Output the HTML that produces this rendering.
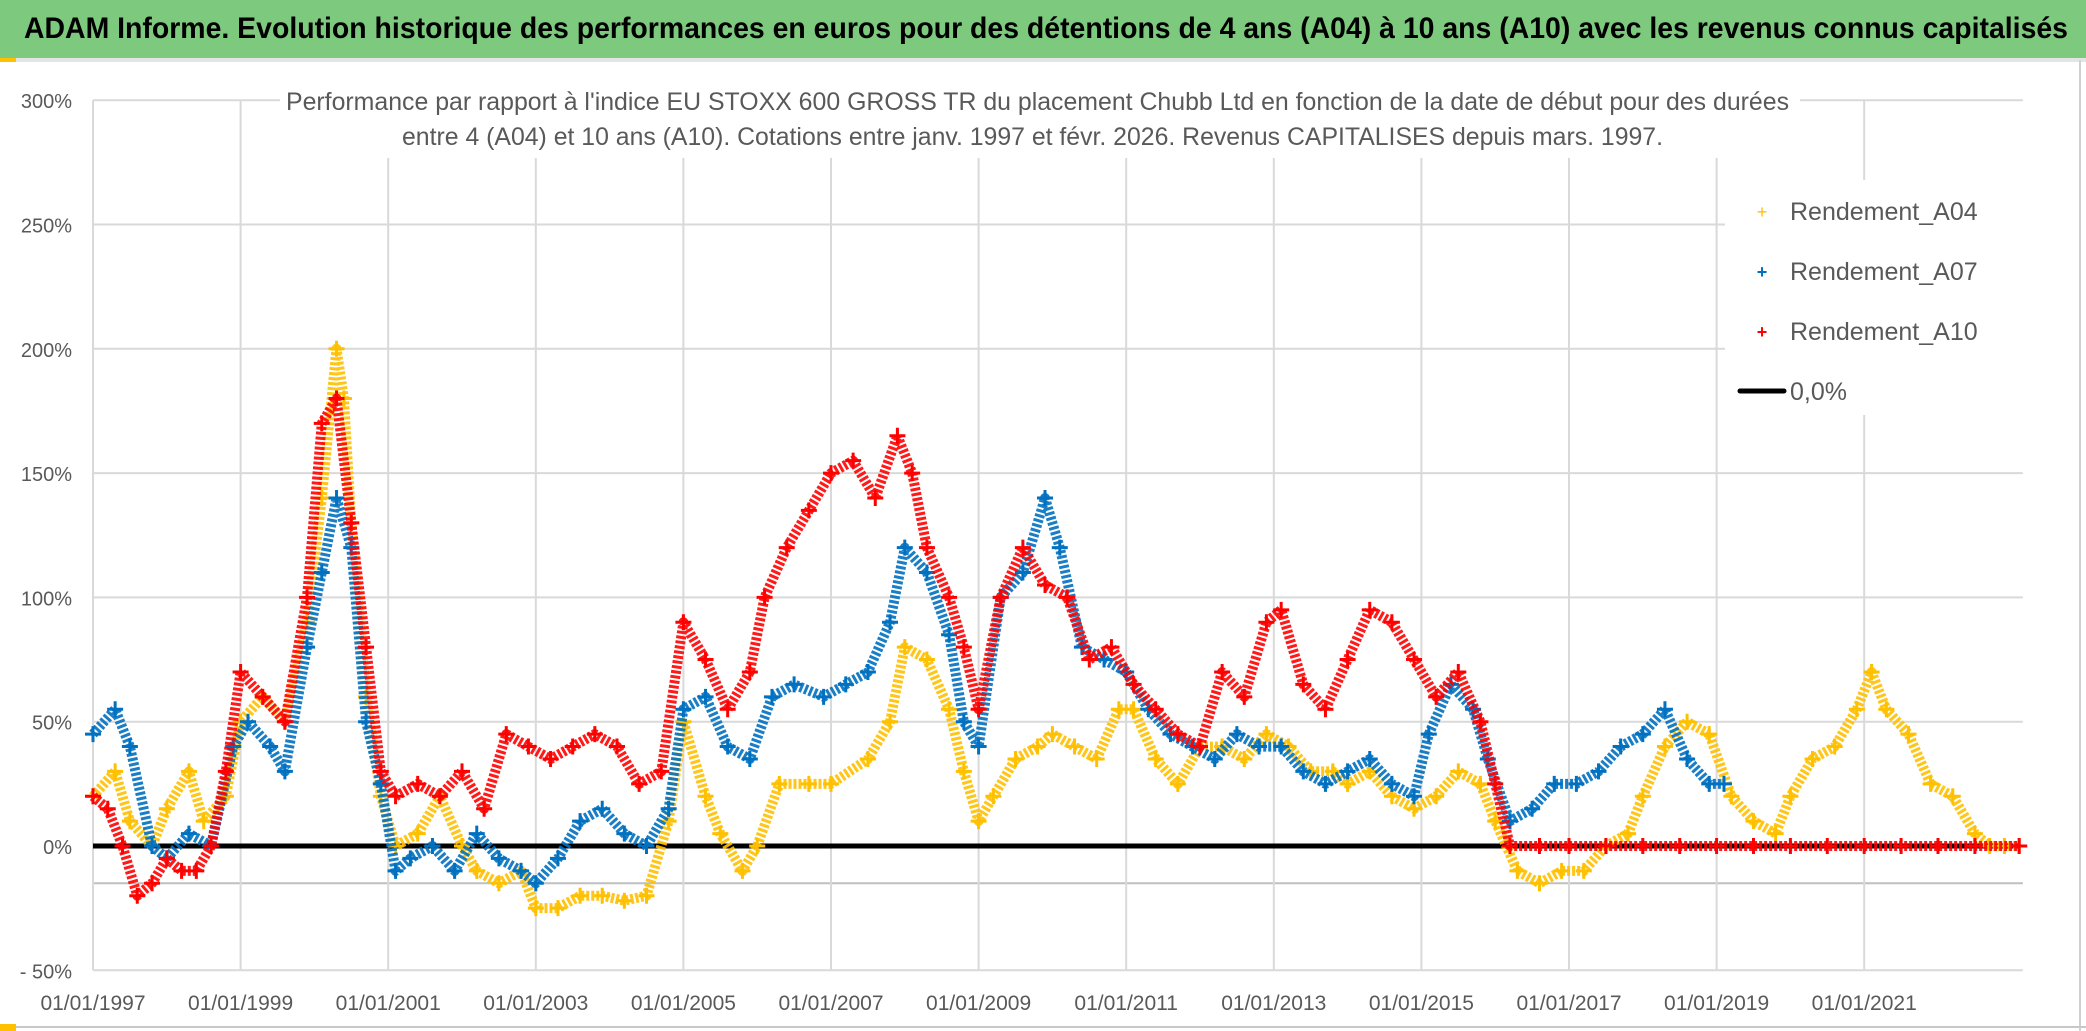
<!DOCTYPE html>
<html><head><meta charset="utf-8"><style>
html,body{margin:0;padding:0;background:#fff;}
svg{display:block;font-family:"Liberation Sans",sans-serif;}
</style></head><body>
<svg id="chart" width="2086" height="1031" viewBox="0 0 2086 1031" xmlns="http://www.w3.org/2000/svg">
<rect x="0" y="0" width="2086" height="1031" fill="#fff"/>
<rect x="0" y="0" width="2086" height="58" fill="#7dc97d"/>
<rect x="0" y="58" width="2086" height="4" fill="#e4e4e4"/>
<rect x="0" y="58" width="16" height="4" fill="#ffc000"/>
<text x="24" y="38" font-size="30" font-weight="bold" fill="#000" textLength="2044" lengthAdjust="spacingAndGlyphs">ADAM Informe. Evolution historique des performances en euros pour des détentions de 4 ans (A04) à 10 ans (A10) avec les revenus connus capitalisés</text>
<g id="grid"></g>
<g id="ylabels"></g>
<g id="xlabels"></g>
<rect x="280" y="80" width="1520" height="78" fill="#fff"/>
<text x="286" y="110" font-size="25" fill="#595959" textLength="1503" lengthAdjust="spacingAndGlyphs">Performance par rapport à l'indice EU STOXX 600 GROSS TR  du placement Chubb Ltd en fonction de la date de début pour des durées</text>
<text x="402" y="145" font-size="25" fill="#595959" textLength="1261" lengthAdjust="spacingAndGlyphs">entre 4 (A04) et 10 ans (A10). Cotations entre janv. 1997 et févr. 2026. Revenus CAPITALISES depuis mars. 1997.</text>
<g id="series"></g>
<rect x="1725" y="180" width="300" height="235" fill="#fff"/>
<g><text x="1762" y="218" font-size="18" fill="#ffc000" text-anchor="middle">+</text><text x="1790" y="220" font-size="25" fill="#595959">Rendement_A04</text></g>
<g><text x="1762" y="278" font-size="18" font-weight="bold" fill="#0070c0" text-anchor="middle">+</text><text x="1790" y="280" font-size="25" fill="#595959">Rendement_A07</text></g>
<g><text x="1762" y="338" font-size="18" font-weight="bold" fill="#ff0000" text-anchor="middle">+</text><text x="1790" y="340" font-size="25" fill="#595959">Rendement_A10</text></g>
<g><line x1="1740" y1="391" x2="1784" y2="391" stroke="#000" stroke-width="5" stroke-linecap="round"/><text x="1790" y="400" font-size="25" fill="#595959">0,0%</text></g>
<line x1="2080" y1="60" x2="2080" y2="1031" stroke="#d0d0d0" stroke-width="2"/>
<line x1="0" y1="1027" x2="2086" y2="1027" stroke="#c8c8c8" stroke-width="2"/>
<rect x="0" y="1024" width="16" height="7" fill="#ffc000"/>
</svg>
<script>
const yTicks = [300, 250, 200, 150, 100, 50, 0, -50];
const yTickLabels = ["300%", "250%", "200%", "150%", "100%", "50%", "0%", "- 50%"];
const xTickYears = [1997, 1999, 2001, 2003, 2005, 2007, 2009, 2011, 2013, 2015, 2017, 2019, 2021];
const xTickLabels = ["01/01/1997","01/01/1999","01/01/2001","01/01/2003","01/01/2005","01/01/2007","01/01/2009","01/01/2011","01/01/2013","01/01/2015","01/01/2017","01/01/2019","01/01/2021"];
const refLine = -15;
const zeroLineEnd = 2023.1;

const a04Dates = [1997.0,1997.3,1997.5,1997.8,1998.0,1998.3,1998.5,1998.8,1999.0,1999.3,1999.6,1999.9,2000.1,2000.3,2000.4,2000.5,2000.7,2000.9,2001.1,2001.4,2001.7,2002.0,2002.2,2002.5,2002.8,2003.0,2003.3,2003.6,2003.9,2004.2,2004.5,2004.8,2005.0,2005.3,2005.5,2005.8,2006.0,2006.3,2006.7,2007.0,2007.5,2007.8,2008.0,2008.3,2008.6,2008.8,2009.0,2009.2,2009.5,2009.8,2010.0,2010.3,2010.6,2010.9,2011.1,2011.4,2011.7,2012.0,2012.3,2012.6,2012.9,2013.2,2013.5,2013.8,2014.0,2014.3,2014.6,2014.9,2015.2,2015.5,2015.8,2016.0,2016.3,2016.6,2016.9,2017.2,2017.5,2017.8,2018.0,2018.3,2018.6,2018.9,2019.2,2019.5,2019.8,2020.0,2020.3,2020.6,2020.9,2021.1,2021.3,2021.6,2021.9,2022.2,2022.5,2022.7,2022.9,2023.1];
const a04Values = [20,30,10,0,15,30,10,20,50,60,50,90,140,200,180,130,60,20,0,5,20,0,-10,-15,-10,-25,-25,-20,-20,-22,-20,10,50,20,5,-10,0,25,25,25,35,50,80,75,55,30,10,20,35,40,45,40,35,55,55,35,25,40,40,35,45,40,30,30,25,30,20,15,20,30,25,10,-10,-15,-10,-10,0,5,20,40,50,45,20,10,5,20,35,40,55,70,55,45,25,20,5,0,0,0];

const a07Dates = [1997.0,1997.3,1997.5,1997.8,1998.0,1998.3,1998.6,1998.9,1999.1,1999.4,1999.6,1999.9,2000.1,2000.3,2000.5,2000.7,2000.9,2001.1,2001.3,2001.6,2001.9,2002.2,2002.5,2002.8,2003.0,2003.3,2003.6,2003.9,2004.2,2004.5,2004.8,2005.0,2005.3,2005.6,2005.9,2006.2,2006.5,2006.9,2007.2,2007.5,2007.8,2008.0,2008.3,2008.6,2008.8,2009.0,2009.3,2009.6,2009.9,2010.1,2010.4,2010.7,2011.0,2011.3,2011.6,2011.9,2012.2,2012.5,2012.8,2013.1,2013.4,2013.7,2014.0,2014.3,2014.6,2014.9,2015.1,2015.4,2015.7,2015.9,2016.2,2016.5,2016.8,2017.1,2017.4,2017.7,2018.0,2018.3,2018.6,2018.9,2019.1];
const a07Values = [45,55,40,0,-5,5,0,40,50,40,30,80,110,140,120,50,25,-10,-5,0,-10,5,-5,-10,-15,-5,10,15,5,0,15,55,60,40,35,60,65,60,65,70,90,120,110,85,50,40,100,110,140,120,80,75,70,55,45,40,35,45,40,40,30,25,30,35,25,20,45,65,55,35,10,15,25,25,30,40,45,55,35,25,25];

const a10Dates = [1997.0,1997.2,1997.4,1997.6,1997.8,1998.0,1998.2,1998.4,1998.6,1998.8,1999.0,1999.3,1999.6,1999.9,2000.1,2000.3,2000.5,2000.7,2000.9,2001.1,2001.4,2001.7,2002.0,2002.3,2002.6,2002.9,2003.2,2003.5,2003.8,2004.1,2004.4,2004.7,2005.0,2005.3,2005.6,2005.9,2006.1,2006.4,2006.7,2007.0,2007.3,2007.6,2007.9,2008.1,2008.3,2008.6,2008.8,2009.0,2009.3,2009.6,2009.9,2010.2,2010.5,2010.8,2011.1,2011.4,2011.7,2012.0,2012.3,2012.6,2012.9,2013.1,2013.4,2013.7,2014.0,2014.3,2014.6,2014.9,2015.2,2015.5,2015.8,2016.0,2016.2,2016.6,2017.0,2017.5,2018.0,2018.5,2019.0,2019.5,2020.0,2020.5,2021.0,2021.5,2022.0,2022.5,2023.1];
const a10Values = [20,15,0,-20,-15,-5,-10,-10,0,30,70,60,50,100,170,180,130,80,30,20,25,20,30,15,45,40,35,40,45,40,25,30,90,75,55,70,100,120,135,150,155,140,165,150,120,100,80,55,100,120,105,100,75,80,65,55,45,40,70,60,90,95,65,55,75,95,90,75,60,70,50,25,0,0,0,0,0,0,0,0,0,0,0,0,0,0,0];

const X0 = 93, PX_PER_YEAR = 73.8, Y0 = 846, PX_PER_PCT = 124.3/50;
function xs(yr){ return X0 + (yr - 1997) * PX_PER_YEAR; }
function ys(v){ return Y0 - v * PX_PER_PCT; }
const NS = "http://www.w3.org/2000/svg";
function mk(tag, attrs, parent){ const e = document.createElementNS(NS, tag); for (const k in attrs) e.setAttribute(k, attrs[k]); parent.appendChild(e); return e; }

const grid = document.getElementById('grid');
const xRight = xs(2023.15);
yTicks.forEach((t,i)=>{
  const l = mk('line', {x1:X0, x2:xRight, y1:ys(t), y2:ys(t), stroke:'#d9d9d9', 'stroke-width':2}, grid);
  
  
  const tx = mk('text', {x:72, y:ys(t)+8, 'font-size':20, fill:'#595959', 'text-anchor':'end'}, document.getElementById('ylabels'));
  tx.textContent = yTickLabels[i];
  
  
});
const rl = mk('line', {x1:X0, x2:xRight, y1:ys(refLine), y2:ys(refLine), stroke:'#bfbfbf', 'stroke-width':2}, grid);


xTickYears.forEach((yr,i)=>{
  const l = mk('line', {x1:xs(yr), x2:xs(yr), y1:ys(300), y2:ys(-50), stroke:'#d9d9d9', 'stroke-width':2}, grid);
  
  
  const tx = mk('text', {x:xs(yr), y:1010, 'font-size':21, fill:'#595959', 'text-anchor':'middle'}, document.getElementById('xlabels'));
  tx.textContent = xTickLabels[i];
  
  
});

const series = document.getElementById('series');
const zl = mk('line', {x1:X0, x2:xs(zeroLineEnd), y1:ys(0), y2:ys(0), stroke:'#000', 'stroke-width':5}, series);



function drawSeries(dates, vals, color, name, sw){
  const g = mk('g', {}, series);
  
  
  const pts = dates.map((d,i)=> xs(d).toFixed(1)+','+ys(vals[i]).toFixed(1)).join(' ');
  const pl = mk('polyline', {points:pts, fill:'none', stroke:color, 'stroke-width':sw, 'stroke-linejoin':'round', 'stroke-dasharray':'3 2', opacity:0.9}, g);
  
  
  dates.forEach((d,i)=>{
    const x = xs(d), y = ys(vals[i]);
    const p = mk('path', {d:`M${x-8},${y}H${x+8}M${x},${y-8}V${y+8}`, stroke:color, 'stroke-width':3}, g);
    
    
  });
}
drawSeries(a04Dates, a04Values, '#ffc000', 'series-a04', 10);
drawSeries(a07Dates, a07Values, '#0070c0', 'series-a07', 10);
drawSeries(a10Dates, a10Values, '#ff0000', 'series-a10', 10);
</script>
</body></html>
